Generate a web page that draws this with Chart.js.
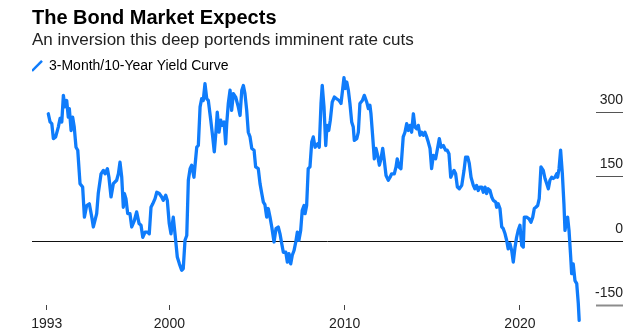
<!DOCTYPE html>
<html><head><meta charset="utf-8">
<script src="https://cdn.jsdelivr.net/npm/chart.js@4/dist/chart.umd.min.js"></script>
<style>html,body{margin:0;padding:0;background:#fff}#wrap{width:640px;height:332px;position:relative}</style>
</head><body><div id="wrap"><canvas id="c"></canvas></div>
<script>
const titleText = 'The Bond Market Expects';
const subtitleText = 'An inversion this deep portends imminent rate cuts';
const seriesLabel = '3-Month/10-Year Yield Curve';
const xTickYears = [1993, 2000, 2010, 2020];
const yTickValues = [-150, 0, 150, 300];

const years = [
1993.09,1993.19,1993.29,1993.38,1993.51,1993.66,1993.76,1993.86,1993.95,1994.04,1994.14,1994.23,1994.29,1994.39,1994.48,1994.57,1994.67,1994.77,1994.90,
1995.05,1995.15,1995.28,1995.43,1995.57,1995.66,1995.85,1995.94,1996.10,1996.23,1996.33,1996.46,1996.55,1996.67,1996.80,1996.99,
1997.09,1997.18,1997.28,1997.37,1997.43,1997.52,1997.62,1997.75,1997.85,1998.00,1998.13,1998.27,1998.38,1998.48,1998.61,1998.74,1998.85,1998.95,
1999.05,1999.18,1999.28,1999.42,1999.56,1999.65,1999.79,1999.88,1999.99,2000.09,2000.22,2000.32,2000.45,2000.57,2000.70,2000.79,2000.89,2000.99,
2001.08,2001.18,2001.27,2001.40,2001.56,2001.65,2001.75,2001.84,2001.93,2002.03,2002.13,2002.22,2002.36,2002.47,2002.56,2002.66,2002.73,2002.83,2002.93,
2003.02,2003.12,2003.21,2003.27,2003.36,2003.46,2003.55,2003.65,2003.78,2003.93,2004.03,2004.13,2004.22,2004.31,2004.41,2004.50,2004.60,2004.70,2004.83,2004.92,
2005.07,2005.17,2005.27,2005.36,2005.45,2005.55,2005.64,2005.74,2005.84,2005.97,2006.08,2006.21,2006.31,2006.41,2006.50,2006.64,2006.73,2006.82,2006.92,
2007.01,2007.11,2007.21,2007.30,2007.39,2007.49,2007.58,2007.68,2007.74,2007.83,2007.92,2008.02,2008.12,2008.21,2008.31,2008.46,2008.55,2008.65,2008.72,2008.82,2008.92,2008.99,
2009.09,2009.18,2009.29,2009.41,2009.54,2009.68,2009.79,2009.89,2009.96,2010.04,2010.12,2010.21,2010.30,2010.40,2010.49,2010.55,2010.69,2010.78,2010.87,
2011.01,2011.12,2011.26,2011.35,2011.44,2011.50,2011.60,2011.69,2011.79,2011.88,2011.98,2012.07,2012.17,2012.26,2012.36,2012.49,2012.59,2012.68,2012.83,2012.93,
2013.00,2013.10,2013.21,2013.34,2013.44,2013.54,2013.63,2013.73,2013.82,2013.92,2014.01,2014.11,2014.20,2014.30,2014.39,2014.49,2014.58,2014.68,2014.77,2014.87,2014.96,
2015.06,2015.19,2015.31,2015.40,2015.50,2015.63,2015.76,2015.85,2015.95,2016.05,2016.14,2016.24,2016.33,2016.43,2016.54,2016.68,2016.81,2016.90,
2017.02,2017.11,2017.21,2017.34,2017.43,2017.53,2017.62,2017.72,2017.82,2017.91,2018.01,2018.10,2018.19,2018.29,2018.39,2018.48,2018.62,2018.67,2018.76,2018.86,2018.96,
2019.05,2019.15,2019.24,2019.33,2019.43,2019.53,2019.62,2019.72,2019.81,2019.90,2020.00,2020.10,2020.19,2020.25,2020.38,2020.52,2020.63,2020.73,2020.82,2020.91,
2021.01,2021.10,2021.20,2021.33,2021.43,2021.53,2021.62,2021.71,2021.81,2021.90,2022.00,2022.10,2022.15,2022.23,2022.32,2022.42,2022.51,2022.57,2022.67,2022.72,2022.80,2022.89,2022.95,
2023.04,2023.14,2023.24,2023.33,2023.38
];

const spread = [
296,277,273,238,242,265,285,277,339,312,327,288,308,257,288,265,218,211,133,
125,55,82,86,55,32,63,110,156,164,156,168,148,102,133,141,
156,183,148,78,110,98,63,63,32,47,67,40,36,8,20,20,16,78,
86,98,113,110,102,94,106,94,40,16,55,16,-38,-54,-69,-65,1,12,
141,168,176,148,218,222,312,331,327,366,331,327,281,242,207,257,300,253,281,
269,277,226,273,320,351,304,343,335,312,292,351,362,343,304,253,242,215,211,172,
168,133,110,90,84,55,75,55,32,-3,28,32,16,-7,-27,-27,-50,-30,-54,
-34,-23,-3,20,1,24,71,82,63,82,168,172,230,242,218,226,218,320,362,312,222,269,
257,281,323,335,331,327,320,355,380,355,370,351,320,277,265,234,238,253,320,
327,339,323,308,316,296,242,191,215,199,176,191,215,187,152,141,148,156,156,172,
191,172,168,242,253,273,257,269,253,296,265,261,269,246,253,246,253,242,230,215,168,
199,191,218,238,218,222,211,211,203,148,156,164,156,125,121,129,164,195,
195,180,148,129,121,129,117,125,125,113,125,110,121,117,102,94,90,78,86,75,32,
28,16,1,-19,-7,-23,-50,-15,8,24,36,-11,-15,55,55,51,43,55,75,78,
82,98,172,164,145,133,121,141,148,145,148,156,148,168,211,156,86,24,51,55,24,-34,-77,
-54,-93,-100,-147,-186
];

const BLUE = '#0f7cfb';
Chart.defaults.font.family = "'Liberation Sans', Arial, Helvetica, sans-serif";

const stubGrid = {
  id: 'stubGrid',
  beforeDatasetsDraw(chart) {
    const {ctx, chartArea, scales} = chart;
    const y = scales.y;
    ctx.save();
    yTickValues.forEach(v => {
      const py = Math.round(y.getPixelForValue(v)) + 0.5;
      ctx.beginPath();
      if (v === 0) {
        ctx.strokeStyle = '#111';
        ctx.lineWidth = 1;
        ctx.moveTo(chartArea.left, py);
        ctx.lineTo(chartArea.right, py);
      } else {
        ctx.strokeStyle = v < 0 ? '#8c8c8c' : '#555';
        ctx.lineWidth = v < 0 ? 2 : 1;
        ctx.moveTo(chartArea.right - 27, py);
        ctx.lineTo(chartArea.right, py);
      }
      ctx.stroke();
    });
    ctx.restore();
  }
};

new Chart(document.getElementById('c'), {
  type: 'line',
  data: {
    datasets: [{
      label: seriesLabel,
      data: years.map((x, i) => ({x: x, y: spread[i]})),
      borderColor: BLUE,
      backgroundColor: BLUE,
      borderWidth: 3.3,
      pointRadius: 0,
      tension: 0,
      clip: false,
      borderJoinStyle: 'round',
      borderCapStyle: 'round'
    }]
  },
  options: {
    responsive: true,
    maintainAspectRatio: false,
    animation: false,
    devicePixelRatio: 1,
    events: [],
    layout: {padding: {left: 32, right: 17, top: 0, bottom: 0}},
    plugins: {
      title: {display: true, text: titleText, align: 'start', color: '#000',
        font: {size: 20, weight: 'bold'}, padding: {top: 6, bottom: 0}},
      subtitle: {display: true, text: subtitleText, align: 'start', color: '#222',
        font: {size: 17}, padding: {top: 0.5, bottom: 8}},
      legend: {
        display: true, align: 'start',
        labels: {
          usePointStyle: true, boxWidth: 10, boxHeight: 10, padding: 0,
          color: '#222', font: {size: 14},
          generateLabels: () => [{text: seriesLabel, pointStyle: 'line', rotation: -45,
            strokeStyle: BLUE, fillStyle: BLUE, lineWidth: 2.5, hidden: false, datasetIndex: 0}]
        }
      },
      tooltip: {enabled: false}
    },
    scales: {
      x: {
        type: 'linear', min: 1992.16, max: 2025.88,
        afterBuildTicks: s => { s.ticks = xTickYears.map(v => ({value: v})); },
        afterFit: s => { s.height = 27; },
        grid: {drawOnChartArea: false, drawTicks: true, tickLength: 5, color: '#444', lineWidth: 1},
        border: {display: false},
        ticks: {callback: v => String(v), font: {size: 14}, color: '#222', padding: 6, maxRotation: 0, autoSkip: false}
      },
      y: {
        position: 'right', min: -150, max: 368,
        afterBuildTicks: s => { s.ticks = yTickValues.map(v => ({value: v})); },
        grid: {display: false, drawTicks: false},
        border: {display: false},
        ticks: {mirror: true, padding: 0, labelOffset: -12, font: {size: 14}, color: '#222', callback: v => String(v)}
      }
    }
  },
  plugins: [stubGrid]
});
</script>
</body></html>
